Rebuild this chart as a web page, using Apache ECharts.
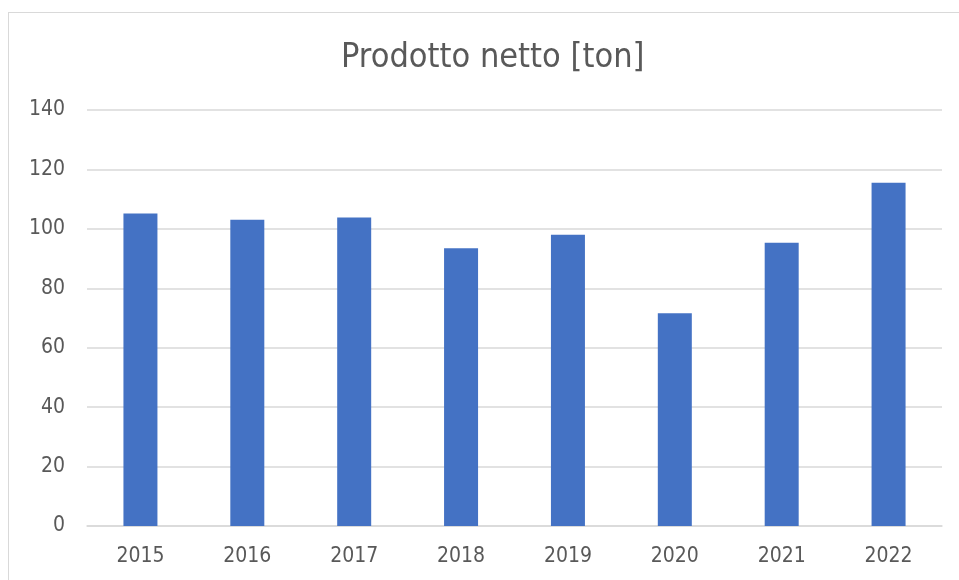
<!DOCTYPE html>
<html>
<head>
<meta charset="utf-8">
<script src="https://cdn.jsdelivr.net/npm/echarts@6/dist/echarts.min.js"></script>
<style>
  html, body { margin: 0; padding: 0; background: #fff; }
  #frame {
    position: absolute; left: 8px; top: 12px; width: 960px; height: 580px;
    border: 1px solid #d9d9d9; box-sizing: border-box;
  }
  #chart_box { position: absolute; left: 0; top: 0; width: 959px; height: 580px; }
</style>
</head>
<body>
<div id="frame"></div>
<div id="chart_box"></div>
<script>
// dati
var anni = ["2015", "2016", "2017", "2018", "2019", "2020", "2021", "2022"];
var prodottoNetto = [105.2, 103.1, 103.8, 93.5, 98.0, 71.6, 95.3, 115.5];
var yTicks = [0, 20, 40, 60, 80, 100, 120, 140];

var font = "'DejaVu Sans Condensed', sans-serif";
var myecharts = echarts.init(document.getElementById("chart_box"));
var option = {
  animation: false,
  title: {
    text: "Prodotto netto [ton]",
    left: 336,
    top: 36,
    textStyle: { fontFamily: font, fontSize: 34, fontWeight: "normal", color: "#595959" }
  },
  grid: { left: 87, right: 17, top: 110, bottom: 54 },
  xAxis: {
    type: "category",
    data: anni,
    axisLine: { lineStyle: { color: "#d9d9d9", width: 1.5 } },
    axisTick: { show: false },
    axisLabel: { fontFamily: font, fontSize: 21, color: "#595959", margin: 20 }
  },
  yAxis: {
    type: "value",
    min: yTicks[0],
    max: yTicks[yTicks.length - 1],
    interval: 20,
    axisLine: { show: false },
    axisTick: { show: false },
    splitLine: { lineStyle: { color: "#d9d9d9", width: 1.5 } },
    axisLabel: { fontFamily: font, fontSize: 21, color: "#595959", margin: 22 }
  },
  series: [
    {
      name: "Prodotto netto",
      type: "bar",
      data: prodottoNetto,
      barWidth: 34,
      itemStyle: { color: "#4472C4" }
    }
  ]
};
myecharts.setOption(option);
</script>
</body>
</html>
